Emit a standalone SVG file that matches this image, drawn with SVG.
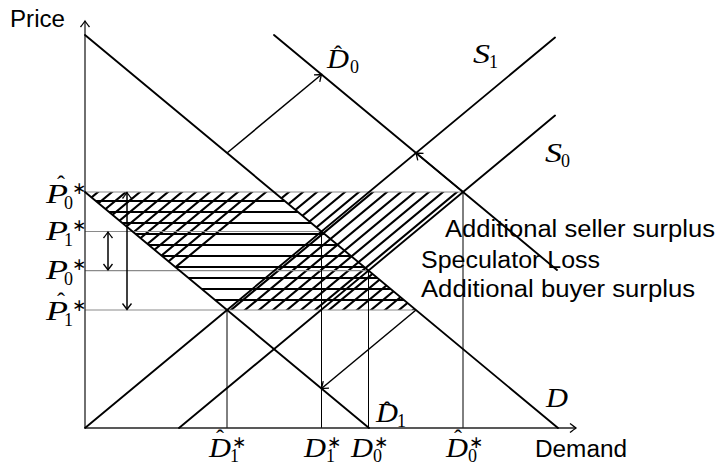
<svg xmlns="http://www.w3.org/2000/svg" width="722" height="465" viewBox="0 0 722 465">
<style>
.ln{stroke:#000;stroke-width:1.9;fill:none;stroke-linecap:round}
.ax{stroke:#222;stroke-width:1.3;fill:none}
.vl{stroke:#000;stroke-width:1;fill:none}
.gl{stroke:#8a8a8a;stroke-width:1.2;fill:none}
.ar{stroke:#000;stroke-width:1.5;fill:none}
.hx{stroke:#000;stroke-width:1.8;fill:none}
.hd{stroke:#000;stroke-width:2.1;fill:none}
.m{font-family:"Liberation Serif",serif;font-style:italic;font-size:27px;fill:#000}
.s{font-family:"Liberation Serif",serif;font-size:18px;fill:#000}
.st{font-family:"DejaVu Sans",sans-serif;font-size:17px;fill:#000}
.h{font-family:"Liberation Serif",serif;font-size:24px;fill:#000;text-anchor:middle}
.t{font-family:"Liberation Sans",sans-serif;font-size:23.5px;fill:#000}
</style>
<defs>
<marker id="ah" viewBox="-8 -6 10 12" refX="0" refY="0" markerWidth="10" markerHeight="12" markerUnits="userSpaceOnUse" orient="auto-start-reverse">
<path d="M-6,-4.5 Q-1.5,-1 0,0 Q-1.5,1 -6,4.5" stroke="#000" stroke-width="1.3" fill="none"/>
</marker>
<clipPath id="cH"><polygon points="86.1,192.9 275,192.9 414.9,309.1 225.9,309.1"/></clipPath>
<clipPath id="cN1"><polygon points="85,192 274,192 179,270.6"/></clipPath>
<clipPath id="cN2"><polygon points="274,192 463,192 368.5,270.6"/></clipPath>
<clipPath id="cN3"><polygon points="321.5,231.5 416,310 227,310"/></clipPath>
</defs>

<g id="hatch">
<path id="speculator-loss" class="hx" clip-path="url(#cH)" d="M80,201 H420 M80,212 H420 M80,223 H420 M80,234 H420 M80,245 H420 M80,256 H420 M80,267 H420 M80,278 H420 M80,289 H420 M80,300 H420"/>
<path id="hatch-n1" class="hd" clip-path="url(#cN1)" d="M94,183.69 l-150,124.64 M108,183.69 l-150,124.64 M122,183.69 l-150,124.64 M136,183.69 l-150,124.64 M150,183.69 l-150,124.64 M164,183.69 l-150,124.64 M178,183.69 l-150,124.64 M192,183.69 l-150,124.64 M206,183.69 l-150,124.64 M220,183.69 l-150,124.64 M234,183.69 l-150,124.64 M248,183.69 l-150,124.64 M262,183.69 l-150,124.64 M276,183.69 l-150,124.64 M290,183.69 l-150,124.64"/>
<path id="hatch-n2" class="hd" clip-path="url(#cN2)" d="M271,183.69 l-150,124.64 M285,183.69 l-150,124.64 M299,183.69 l-150,124.64 M313,183.69 l-150,124.64 M327,183.69 l-150,124.64 M341,183.69 l-150,124.64 M355,183.69 l-150,124.64 M369,183.69 l-150,124.64 M383,183.69 l-150,124.64 M397,183.69 l-150,124.64 M411,183.69 l-150,124.64 M425,183.69 l-150,124.64 M439,183.69 l-150,124.64 M453,183.69 l-150,124.64 M467,183.69 l-150,124.64 M481,183.69 l-150,124.64"/>
<path id="hatch-n3" class="hd" clip-path="url(#cN3)" d="M207,318.31 l150,-124.64 M221,318.31 l150,-124.64 M235,318.31 l150,-124.64 M249,318.31 l150,-124.64 M263,318.31 l150,-124.64 M277,318.31 l150,-124.64 M291,318.31 l150,-124.64 M305,318.31 l150,-124.64 M319,318.31 l150,-124.64 M333,318.31 l150,-124.64 M347,318.31 l150,-124.64 M361,318.31 l150,-124.64 M375,318.31 l150,-124.64 M389,318.31 l150,-124.64 M403,318.31 l150,-124.64"/>
</g>

<g id="guides">
<line class="gl" x1="85" y1="192" x2="463" y2="192"/>
<line class="gl" x1="85" y1="231.5" x2="321.5" y2="231.5"/>
<line class="gl" x1="85" y1="270.6" x2="368.5" y2="270.6"/>
<line class="gl" x1="85" y1="310" x2="416" y2="310"/>
<line class="vl" x1="227" y1="310" x2="227" y2="428"/>
<line class="vl" x1="321.5" y1="231.5" x2="321.5" y2="428"/>
<line class="vl" x1="368.5" y1="270.6" x2="368.5" y2="428"/>
<line class="vl" x1="463" y1="192" x2="463" y2="428"/>
</g>

<g id="axes">
<line class="ax" x1="85" y1="428" x2="576" y2="428" marker-end="url(#ah)"/>
<line class="ax" x1="85" y1="428" x2="85" y2="21" marker-end="url(#ah)"/>
</g>

<g id="connectors">
<line id="D" class="ln" x1="85" y1="35" x2="558" y2="428"/>
<line id="D1hat" class="ln" x1="85" y1="192" x2="369" y2="428"/>
<line id="D0hat" class="ln" x1="274" y1="35" x2="557" y2="270"/>
<line id="S1" class="ln" x1="85" y1="428" x2="555" y2="37.5"/>
<line id="S0" class="ln" x1="179" y1="428" x2="555" y2="115.6"/>
<line class="ar" x1="227" y1="153" x2="321.5" y2="74.5" marker-end="url(#ah)"/>
<line class="ar" x1="463" y1="192" x2="416" y2="153" marker-end="url(#ah)"/>
<line class="ar" x1="416" y1="310" x2="321.5" y2="388.5" marker-end="url(#ah)"/>
<line class="ar" x1="108" y1="232" x2="108" y2="270" marker-start="url(#ah)" marker-end="url(#ah)"/>
<line class="ar" x1="127" y1="192.5" x2="127" y2="309.5" marker-start="url(#ah)" marker-end="url(#ah)"/>
</g>

<g id="axis-labels">
<text class="t" x="10" y="27" textLength="55" lengthAdjust="spacingAndGlyphs">Price</text>
<text class="t" x="535" y="457" textLength="92" lengthAdjust="spacingAndGlyphs">Demand</text>
</g>

<g id="legend">
<text class="t" x="445" y="237" textLength="270" lengthAdjust="spacingAndGlyphs">Additional seller surplus</text>
<text class="t" x="421" y="268" textLength="179" lengthAdjust="spacingAndGlyphs">Speculator Loss</text>
<text class="t" x="421" y="297" textLength="274" lengthAdjust="spacingAndGlyphs">Additional buyer surplus</text>
</g>

<g id="price-labels">
<g id="P0hat-star">
<text class="m" x="46" y="203" textLength="22" lengthAdjust="spacingAndGlyphs">P</text>
<text class="h" x="61" y="192">ˆ</text>
<text class="s" x="64" y="209">0</text>
<text class="st" x="72" y="194">∗</text>
</g>
<g id="P1-star">
<text class="m" x="46" y="240" textLength="22" lengthAdjust="spacingAndGlyphs">P</text>
<text class="s" x="64" y="246">1</text>
<text class="st" x="72" y="231">∗</text>
</g>
<g id="P0-star">
<text class="m" x="46" y="279" textLength="22" lengthAdjust="spacingAndGlyphs">P</text>
<text class="s" x="64" y="285">0</text>
<text class="st" x="72" y="270">∗</text>
</g>
<g id="P1hat-star">
<text class="m" x="46" y="320" textLength="22" lengthAdjust="spacingAndGlyphs">P</text>
<text class="h" x="61" y="309">ˆ</text>
<text class="s" x="64" y="326">1</text>
<text class="st" x="72" y="311">∗</text>
</g>
</g>

<g id="quantity-labels">
<g id="D1hat-star">
<text class="m" x="209" y="457" textLength="22" lengthAdjust="spacingAndGlyphs">D</text>
<text class="h" x="220" y="446">ˆ</text>
<text class="s" x="230" y="462">1</text>
<text class="st" x="232" y="448">∗</text>
</g>
<g id="D1-star">
<text class="m" x="304" y="457" textLength="22" lengthAdjust="spacingAndGlyphs">D</text>
<text class="s" x="326" y="462">1</text>
<text class="st" x="327" y="448">∗</text>
</g>
<g id="D0-star">
<text class="m" x="351" y="457" textLength="22" lengthAdjust="spacingAndGlyphs">D</text>
<text class="s" x="373" y="462">0</text>
<text class="st" x="374" y="448">∗</text>
</g>
<g id="D0hat-star">
<text class="m" x="446" y="457" textLength="22" lengthAdjust="spacingAndGlyphs">D</text>
<text class="h" x="458" y="446">ˆ</text>
<text class="s" x="468" y="462">0</text>
<text class="st" x="469" y="448">∗</text>
</g>
</g>

<g id="curve-labels">
<g id="lbl-D0hat">
<text class="m" x="327" y="68" textLength="22" lengthAdjust="spacingAndGlyphs">D</text>
<text class="h" x="338" y="62">ˆ</text>
<text class="s" x="350" y="73">0</text>
</g>
<g id="lbl-S1">
<text class="m" x="473" y="63" textLength="17" lengthAdjust="spacingAndGlyphs">S</text>
<text class="s" x="489" y="68">1</text>
</g>
<g id="lbl-S0">
<text class="m" x="545" y="162" textLength="17" lengthAdjust="spacingAndGlyphs">S</text>
<text class="s" x="561" y="167">0</text>
</g>
<g id="lbl-D">
<text class="m" x="546" y="407" textLength="22" lengthAdjust="spacingAndGlyphs">D</text>
</g>
<g id="lbl-D1hat">
<text class="m" x="376" y="422" textLength="22" lengthAdjust="spacingAndGlyphs">D</text>
<text class="h" x="387" y="418">ˆ</text>
<text class="s" x="397" y="427">1</text>
</g>
</g>
</svg>
